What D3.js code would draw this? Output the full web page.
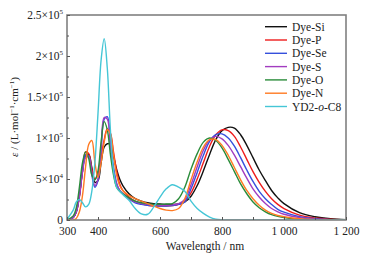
<!DOCTYPE html>
<html><head><meta charset="utf-8">
<script src="https://cdn.jsdelivr.net/npm/d3@7"></script>
<style>body{margin:0;background:#fff}svg{display:block}</style>
</head><body>
<script>
// wavelengths (nm)
const wavelengths = [300,320,330,340,350,360,370,380,390,400,410,420,430,440,450,460,470,480,500,520,540,560,580,600,620,640,660,680,700,720,740,760,780,800,820,840,860,880,900,920,940,960,980,1000,1050,1100,1150,1200];
// molar absorptivity in units of 1e4 L/(mol cm)
const dyeSi = [0,0.3,1.0,3.0,6.0,7.9,8.0,6.4,4.6,4.8,7.0,8.9,9.3,9.2,7.8,6.2,5.0,4.2,3.2,2.6,2.3,2.1,2.0,1.95,1.9,1.9,1.95,2.2,2.9,4.2,6.0,8.0,9.8,10.9,11.3,11.2,10.4,9.1,7.6,6.1,4.8,3.6,2.7,2.0,0.9,0.4,0.15,0.05];
const dyeP  = [0,0.3,1.0,2.8,6.0,8.3,8.1,6.2,5.0,5.6,7.6,9.8,11.1,10.6,8.3,6.0,4.4,3.6,2.8,2.3,2.0,1.8,1.7,1.7,1.7,1.75,1.9,2.3,3.3,5.0,7.0,9.0,10.4,11.0,10.9,10.2,8.9,7.4,5.9,4.6,3.5,2.6,1.9,1.4,0.6,0.25,0.1,0.03];
const dyeSe = [0,0.3,1.0,3.0,6.0,7.9,7.8,5.5,4.0,4.8,8.5,12.3,12.6,9.5,6.5,4.5,3.6,3.2,2.6,2.1,1.9,1.8,1.75,1.7,1.7,1.75,1.9,2.2,3.8,5.8,7.9,9.6,10.4,10.5,10.0,9.0,7.6,6.1,4.7,3.5,2.6,1.9,1.3,0.95,0.4,0.15,0.05,0];
const dyeS  = [0,0.3,1.0,2.9,5.8,7.6,7.7,5.8,4.2,5.0,8.8,12.5,12.3,9.0,6.0,4.4,3.6,3.2,2.6,2.2,2.0,1.9,1.8,1.8,1.8,1.85,2.0,2.5,4.3,6.5,8.5,9.8,10.2,9.9,9.1,7.9,6.5,5.1,3.8,2.8,2.0,1.4,1.0,0.7,0.3,0.1,0.03,0];
const dyeO  = [0,0.5,1.5,4.0,7.0,8.3,7.5,5.5,4.9,6.0,9.5,12.0,11.0,8.0,5.5,4.0,3.5,3.2,2.7,2.3,2.1,2.0,1.9,1.9,1.95,2.0,2.6,4.0,6.2,8.1,9.5,10.0,9.7,8.8,7.4,5.9,4.4,3.2,2.2,1.5,1.0,0.65,0.45,0.3,0.1,0.03,0,0];
const dyeN  = [0,0,0.2,1.0,3.0,6.5,9.2,9.7,7.0,5.2,7.0,9.5,11.0,10.5,8.0,5.5,4.2,3.6,3.0,2.6,2.3,2.0,1.7,1.4,1.2,1.15,1.4,2.6,4.9,7.1,8.9,9.8,9.8,9.1,7.9,6.4,4.9,3.6,2.6,1.8,1.2,0.8,0.55,0.4,0.15,0.05,0,0];
const yd2   = [0.1,1.2,2.2,2.5,2.1,1.6,1.9,3.5,7.0,13.0,19.5,22.1,18.5,11.0,6.0,4.0,3.5,3.1,2.4,1.4,0.75,0.7,1.6,2.8,3.8,4.3,4.0,3.5,2.3,1.4,0.8,0.35,0.1,0.02,0,0,0,0,0,0,0,0,0,0,0,0,0,0];

const seriesNames = ["Dye-Si","Dye-P","Dye-Se","Dye-S","Dye-O","Dye-N","YD2-o-C8"];
const seriesValues = [dyeSi,dyeP,dyeSe,dyeS,dyeO,dyeN,yd2];
const seriesColors = ["#111111","#ee1c1c","#3550dc","#a23cc0","#2a8c3a","#ff7a22","#45c6d6"];

const xTicks = [300,400,500,600,700,800,900,1000,1100,1200];
const xTickLabels = {300:"300",400:"400",600:"600",800:"800",1000:"1 000",1200:"1 200"};
const yTicksMajor = [0,5,10,15,20,25];
const yTicksMinor = [2.5,7.5,12.5,17.5,22.5];
const yLabelMantissa = ["0","5","1","1.5","2","2.5"];
const yLabelExp = ["","4","5","5","5","5"];

const W = 365, H = 256;
const L = 67, R = 346, T = 15, B = 220;
const svg = d3.select("body").append("svg").attr("width",W).attr("height",H);
const x = d3.scaleLinear().domain([300,1200]).range([L,R]);
const y = d3.scaleLinear().domain([0,25]).range([B,T]);
const font = "'Liberation Serif','Times New Roman',serif";

svg.append("clipPath").attr("id","clip").append("rect").attr("x",L).attr("y",T).attr("width",R-L).attr("height",B-T);

const line = d3.line().x(d=>x(d[0])).y(d=>y(Math.max(0,d[1]))).curve(d3.curveCatmullRom.alpha(0.5));
const g = svg.append("g").attr("clip-path","url(#clip)");
seriesValues.forEach((vals,i)=>{
  g.append("path").datum(wavelengths.map((w,j)=>[w,vals[j]]))
    .attr("d",line).attr("fill","none").attr("stroke",seriesColors[i]).attr("stroke-width",1.4);
});

// frame
svg.append("rect").attr("x",L).attr("y",T).attr("width",R-L).attr("height",B-T)
  .attr("fill","none").attr("stroke","#808080").attr("stroke-width",1.6);

// x axis
const xAxis = d3.axisBottom(x).tickValues(xTicks).tickSizeInner(-3).tickSizeOuter(0)
  .tickFormat(d=>xTickLabels[d]||"");
const xg = svg.append("g").attr("transform",`translate(0,${B})`).call(xAxis);
xg.select(".domain").remove();
xg.selectAll(".tick line").attr("stroke","#555");
xg.selectAll(".tick text").attr("font-family",font).attr("font-size",11.5).attr("fill","#222").attr("dy","1.05em");

// y axis
const yAxis = d3.axisLeft(y).tickValues(yTicksMajor).tickSizeInner(-3).tickSizeOuter(0).tickFormat("");
const yg = svg.append("g").attr("transform",`translate(${L},0)`).call(yAxis);
yg.select(".domain").remove();
yg.selectAll(".tick line").attr("stroke","#555");
const yMinor = d3.axisLeft(y).tickValues(yTicksMinor).tickSizeInner(-2).tickSizeOuter(0).tickFormat("");
const ym = svg.append("g").attr("transform",`translate(${L},0)`).call(yMinor);
ym.select(".domain").remove();
ym.selectAll(".tick line").attr("stroke","#555");

yTicksMajor.forEach((v,i)=>{
  const t = svg.append("text").attr("x",L-4).attr("y",y(v)+4).attr("text-anchor","end")
    .attr("font-family",font).attr("font-size",11.5).attr("fill","#222");
  if(yLabelExp[i]===""){ t.text(yLabelMantissa[i]); }
  else{
    t.append("tspan").text(yLabelMantissa[i]+"×10");
    t.append("tspan").attr("font-size",7).attr("dy",-5).text(yLabelExp[i]);
  }
});

// axis titles
svg.append("text").attr("x",205).attr("y",250).attr("text-anchor","middle")
  .attr("font-family",font).attr("font-size",11.5).attr("fill","#222").text("Wavelength / nm");
const yt = svg.append("text").attr("transform","translate(18,117) rotate(-90)").attr("text-anchor","middle")
  .attr("font-family",font).attr("font-size",11).attr("fill","#222");
yt.append("tspan").attr("font-style","italic").text("ε");
yt.append("tspan").text(" / (L·mol");
yt.append("tspan").attr("font-size",7).attr("dy",-4).text("−1");
yt.append("tspan").attr("dy",4).text("·cm");
yt.append("tspan").attr("font-size",7).attr("dy",-4).text("−1");
yt.append("tspan").attr("dy",4).text(")");

// legend
seriesNames.forEach((n,i)=>{
  const yy = 26.7 + i*13.3;
  svg.append("line").attr("x1",265).attr("x2",287).attr("y1",yy).attr("y2",yy)
    .attr("stroke",seriesColors[i]).attr("stroke-width",1.4);
  const t = svg.append("text").attr("x",292).attr("y",yy+4).attr("font-family",font)
    .attr("font-size",11.5).attr("fill","#222");
  if(n==="YD2-o-C8"){
    t.append("tspan").text("YD2-");
    t.append("tspan").attr("font-style","italic").text("o");
    t.append("tspan").text("-C8");
  } else t.text(n);
});
</script>
</body></html>
